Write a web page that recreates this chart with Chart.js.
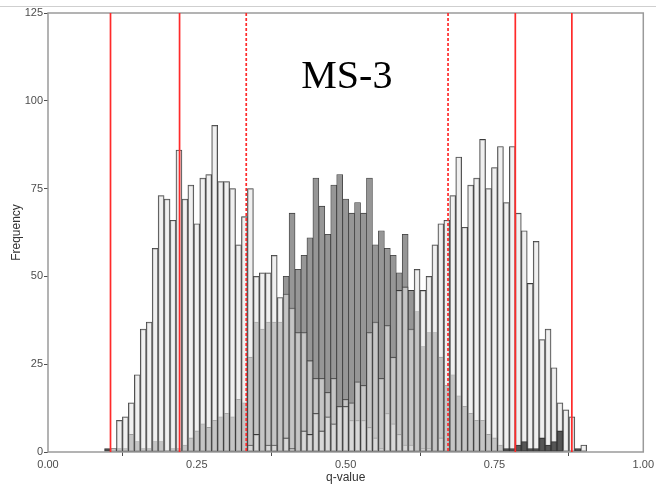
<!DOCTYPE html>
<html>
<head>
<meta charset="utf-8">
<script src="https://cdn.jsdelivr.net/npm/chart.js@4.4.0/dist/chart.umd.min.js"></script>
<style>
    html, body { margin: 0; padding: 0; background: #fff; }
</style>
</head>
<body>
<canvas id="grafico" width="656" height="492"></canvas>
<script>
// Centros das classes do histograma (q-value)
const classes = [
    0.10, 0.11, 0.12, 0.13, 0.14, 0.15, 0.16, 0.17, 0.18, 0.19,
    0.20, 0.21, 0.22, 0.23, 0.24, 0.25, 0.26, 0.27, 0.28, 0.29,
    0.30, 0.31, 0.32, 0.33, 0.34, 0.35, 0.36, 0.37, 0.38, 0.39,
    0.40, 0.41, 0.42, 0.43, 0.44, 0.45, 0.46, 0.47, 0.48, 0.49,
    0.50, 0.51, 0.52, 0.53, 0.54, 0.55, 0.56, 0.57, 0.58, 0.59,
    0.60, 0.61, 0.62, 0.63, 0.64, 0.65, 0.66, 0.67, 0.68, 0.69,
    0.70, 0.71, 0.72, 0.73, 0.74, 0.75, 0.76, 0.77, 0.78, 0.79,
    0.80, 0.81, 0.82, 0.83, 0.84, 0.85, 0.86, 0.87, 0.88, 0.89,
    0.90
];

// Grupo claro da esquerda
const grupoEsquerda = [
    0, 1, 9, 10, 14, 22, 35, 37, 58, 73,
    72, 66, 86, 72, 76, 65, 78, 79, 93, 77,
    77, 75, 59, 67, 75, 50, 51, 51, 56, 44,
    45, 41, 34, 34, 26, 21, 21, 17, 21, 13,
    15, 9, 9, 9, 7, 4, 1, 11, 8, 5,
    2, 2, 0, 1, 1, 0, 4, 0, 0, 0,
    0, 0, 0, 0, 0, 0, 0, 0, 0, 0,
    0, 0, 0, 0, 0, 0, 0, 0, 0, 0,
    0
];

// Grupo claro da direita
const grupoDireita = [
    0, 0, 0, 0, 0, 0, 0, 0, 0, 0,
    0, 0, 0, 0, 0, 0, 0, 0, 0, 0,
    0, 0, 0, 0, 2, 5, 0, 2, 2, 0,
    4, 1, 0, 6, 5, 11, 6, 10, 8, 13,
    13, 14, 20, 19, 34, 37, 21, 36, 27, 46,
    47, 35, 52, 46, 50, 59, 65, 66, 73, 84,
    64, 76, 78, 89, 75, 81, 87, 71, 87, 68,
    63, 48, 60, 32, 35, 24, 14, 12, 10, 0,
    2
];

// Grupo central (cinza médio)
const grupoCentro = [
    0, 0, 1, 1, 5, 3, 1, 1, 3, 3,
    0, 1, 1, 2, 4, 6, 8, 7, 9, 10,
    11, 10, 15, 14, 27, 37, 35, 37, 37, 37,
    50, 68, 52, 56, 61, 78, 70, 62, 76, 79,
    72, 68, 71, 68, 78, 59, 63, 58, 56, 51,
    62, 46, 40, 30, 34, 34, 27, 19, 22, 16,
    13, 11, 9, 9, 5, 4, 2, 0, 0, 0,
    0, 0, 0, 0, 0, 0, 0, 0, 0, 0,
    0
];

// Grupo escuro (extremos)
const grupoEscuro = [
    1, 0, 0, 0, 0, 0, 0, 0, 0, 0,
    0, 0, 0, 0, 0, 0, 0, 0, 0, 0,
    0, 0, 0, 0, 0, 0, 0, 0, 0, 0,
    0, 0, 0, 0, 0, 0, 0, 0, 0, 0,
    0, 0, 0, 0, 0, 0, 0, 0, 0, 0,
    0, 0, 0, 0, 0, 0, 0, 0, 0, 0,
    0, 0, 0, 0, 0, 0, 0, 1, 1, 2,
    3, 1, 1, 4, 2, 3, 6, 0, 0, 1,
    0
];

// Linhas de corte (vermelhas)
const linhasCorte = [0.105, 0.221, 0.333, 0.672, 0.785, 0.880];
const linhasTracejadas = [false, false, true, true, false, false];

const rotulo = 'MS-3';
const ticksX = [0, 0.25, 0.5, 0.75, 1];
const ticksY = [0, 25, 50, 75, 100, 125];

const fonteEixo = { family: '"Liberation Sans", Arial, sans-serif', size: 11 };

// Montar pontos {x, y} de uma série
function montarPontos(valores) {
    return classes.map((c, i) => ({ x: c, y: valores[i] }));
}

function criarDataset(nome, valores, fundo, borda, ordem) {
    return {
        label: nome,
        data: montarPontos(valores),
        backgroundColor: fundo,
        borderColor: borda,
        borderWidth: 0.8,
        borderSkipped: false,
        barPercentage: 1,
        categoryPercentage: 1,
        grouped: false,
        order: ordem
    };
}

// Plugin: borda do painel, linhas vermelhas e rótulo
const pluginExtras = {
    id: 'extras',
    beforeDraw(chart) {
        const ctx = chart.ctx;
        ctx.save();
        ctx.strokeStyle = '#cfcfcf';
        ctx.lineWidth = 1;
        ctx.beginPath();
        ctx.moveTo(0, 6.5);
        ctx.lineTo(chart.width, 6.5);
        ctx.stroke();
        ctx.restore();
    },
    afterDatasetsDraw(chart) {
        const { ctx, chartArea: area, scales: { x, y } } = chart;
        ctx.save();

        ctx.strokeStyle = '#9a9a9a';
        ctx.lineWidth = 1.5;
        ctx.strokeRect(area.left, area.top, area.right - area.left, area.bottom - area.top);

        // linhas de corte, um pouco largas para manter o vermelho visível
        ctx.strokeStyle = '#ff2a2a';
        ctx.lineWidth = 1.7;
        linhasCorte.forEach((q, i) => {
            const px = x.getPixelForValue(q);
            ctx.setLineDash(linhasTracejadas[i] ? [3, 2] : []);
            ctx.beginPath();
            ctx.moveTo(px, area.top);
            ctx.lineTo(px, area.bottom);
            ctx.stroke();
        });
        ctx.setLineDash([]);

        ctx.fillStyle = '#000';
        ctx.font = '40px "Liberation Serif", "Times New Roman", serif';
        ctx.textAlign = 'center';
        ctx.textBaseline = 'middle';
        ctx.fillText(rotulo, x.getPixelForValue(0.502), y.getPixelForValue(106.5));
        ctx.restore();
    }
};

const ctxGrafico = document.getElementById('grafico').getContext('2d');
new Chart(ctxGrafico, {
    type: 'bar',
    data: {
        datasets: [
            criarDataset('Escuro', grupoEscuro, 'rgba(70,70,70,0.9)', '#333', 1),
            criarDataset('Direita', grupoDireita, 'rgba(229,229,229,0.59)', '#3c3c3c', 2),
            criarDataset('Esquerda', grupoEsquerda, 'rgba(229,229,229,0.59)', '#3c3c3c', 3),
            criarDataset('Centro', grupoCentro, 'rgb(150,150,150)', '#3c3c3c', 4)
        ]
    },
    options: {
        responsive: false,
        animation: false,
        layout: { padding: { top: 13, right: 10, bottom: 0, left: 0 } },
        plugins: {
            legend: { display: false },
            tooltip: { enabled: false }
        },
        scales: {
            x: {
                type: 'linear',
                min: 0,
                max: 1,
                offset: false,
                afterFit: (s) => { s.height = 40; },
                afterBuildTicks: (s) => { s.ticks = ticksX.map(v => ({ value: v })); },
                ticks: {
                    callback: (v) => Number(v).toFixed(2),
                    color: '#4d4d4d',
                    font: fonteEixo,
                    padding: 2,
                    maxRotation: 0,
                    autoSkip: false
                },
                grid: { display: true, drawOnChartArea: false, drawTicks: true, tickLength: 4, color: '#4d4d4d' },
                border: { display: false },
                title: {
                    display: true,
                    text: 'q-value',
                    color: '#333',
                    font: { family: '"Liberation Sans", Arial, sans-serif', size: 12 },
                    padding: { top: 0, bottom: 7 }
                }
            },
            y: {
                min: 0,
                max: 125,
                afterFit: (s) => { s.width = 48; },
                afterBuildTicks: (s) => { s.ticks = ticksY.map(v => ({ value: v })); },
                ticks: {
                    color: '#4d4d4d',
                    font: fonteEixo,
                    padding: 1
                },
                grid: { display: true, drawOnChartArea: false, drawTicks: true, tickLength: 4, color: '#4d4d4d' },
                border: { display: false },
                title: {
                    display: true,
                    text: 'Frequency',
                    color: '#333',
                    font: { family: '"Liberation Sans", Arial, sans-serif', size: 12 },
                    padding: { top: 9, bottom: 0 }
                }
            }
        }
    },
    plugins: [pluginExtras]
});
</script>
</body>
</html>
